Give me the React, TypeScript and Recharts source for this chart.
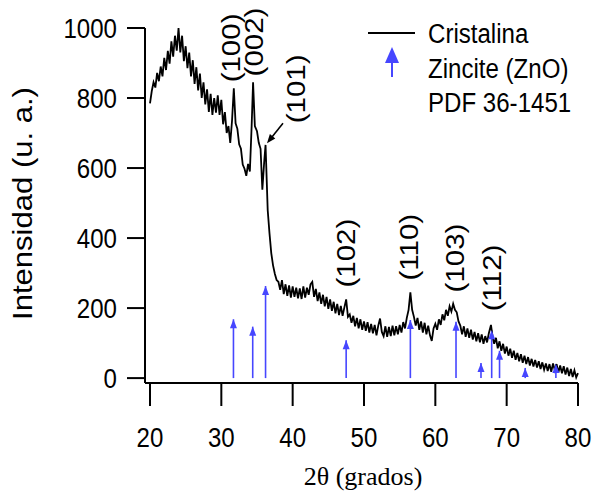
import React from 'react';
import { ComposedChart, Line, Scatter, XAxis, YAxis, ReferenceLine, Legend } from 'recharts';

const SANS = '"Liberation Sans", Arial, sans-serif';
const SERIF = '"Liberation Serif", "Times New Roman", serif';
const BLUE = '#4646ff';

// XRD pattern: [2θ, intensity]
const pattern: [number, number][] = [
  [20.0, 785], [20.25, 820], [20.5, 845], [20.75, 830], [21.0, 872], [21.25, 848], [21.5, 890], [21.75, 862],
  [22.0, 915], [22.25, 880], [22.5, 935], [22.75, 898], [23.0, 962], [23.25, 918], [23.5, 978], [23.75, 935],
  [24.0, 1000], [24.25, 930], [24.5, 978], [24.75, 905], [25.0, 948], [25.25, 885], [25.5, 930], [25.75, 862],
  [26.0, 908], [26.25, 840], [26.5, 888], [26.75, 822], [27.0, 870], [27.25, 800], [27.5, 845], [27.75, 782],
  [28.0, 825], [28.25, 760], [28.5, 812], [28.75, 752], [29.0, 800], [29.25, 758], [29.5, 808], [29.75, 752],
  [30.0, 795], [30.25, 725], [30.5, 760], [30.75, 700], [31.0, 720], [31.25, 672], [31.5, 735], [31.75, 828],
  [32.0, 728], [32.25, 712], [32.5, 668], [32.75, 655], [33.0, 610], [33.25, 598], [33.5, 578], [33.75, 612],
  [34.0, 590], [34.25, 720], [34.45, 845], [34.7, 720], [35.0, 705], [35.25, 672], [35.5, 655], [35.75, 538],
  [36.0, 615], [36.2, 666], [36.5, 480], [36.75, 414], [37.0, 357], [37.25, 322], [37.5, 298], [37.75, 280],
  [38.0, 275], [38.25, 252], [38.5, 280], [38.75, 240], [39.0, 268], [39.25, 235], [39.5, 265], [39.75, 230],
  [40.0, 262], [40.25, 232], [40.5, 258], [40.75, 228], [41.0, 256], [41.25, 226], [41.5, 262], [41.75, 230],
  [42.0, 258], [42.25, 238], [42.5, 268], [42.75, 275], [43.0, 232], [43.25, 255], [43.5, 220], [43.75, 245],
  [44.0, 212], [44.25, 238], [44.5, 205], [44.75, 232], [45.0, 198], [45.25, 225], [45.5, 192], [45.75, 218],
  [46.0, 185], [46.25, 212], [46.5, 180], [46.75, 206], [47.0, 178], [47.25, 202], [47.5, 225], [47.75, 175],
  [48.0, 182], [48.25, 158], [48.5, 178], [48.75, 148], [49.0, 172], [49.25, 142], [49.5, 168], [49.75, 138],
  [50.0, 162], [50.25, 135], [50.5, 160], [50.75, 130], [51.0, 155], [51.25, 128], [51.5, 152], [51.75, 122],
  [52.0, 150], [52.25, 170], [52.5, 132], [52.75, 120], [53.0, 148], [53.25, 118], [53.5, 146], [53.75, 120],
  [54.0, 150], [54.25, 122], [54.5, 148], [54.75, 125], [55.0, 152], [55.25, 130], [55.5, 160], [55.75, 142],
  [56.0, 172], [56.25, 195], [56.5, 245], [56.75, 195], [57.0, 175], [57.25, 150], [57.5, 172], [57.75, 138],
  [58.0, 162], [58.25, 130], [58.5, 158], [58.75, 125], [59.0, 150], [59.25, 122], [59.5, 106], [59.75, 142],
  [60.0, 155], [60.25, 138], [60.5, 168], [60.75, 152], [61.0, 182], [61.25, 165], [61.5, 195], [61.75, 178],
  [62.0, 205], [62.25, 190], [62.5, 212], [62.75, 195], [63.0, 188], [63.25, 162], [63.5, 150], [63.75, 125],
  [64.0, 148], [64.25, 118], [64.5, 142], [64.75, 115], [65.0, 138], [65.25, 110], [65.5, 132], [65.75, 105],
  [66.0, 128], [66.25, 102], [66.5, 125], [66.75, 98], [67.0, 120], [67.25, 102], [67.5, 128], [67.8, 152],
  [68.0, 122], [68.25, 98], [68.5, 115], [68.75, 85], [69.0, 105], [69.25, 78], [69.5, 98], [69.75, 70],
  [70.0, 90], [70.25, 64], [70.5, 84], [70.75, 58], [71.0, 78], [71.25, 52], [71.5, 72], [71.75, 48],
  [72.0, 68], [72.25, 44], [72.5, 64], [72.75, 40], [73.0, 60], [73.25, 36], [73.5, 55], [73.75, 33],
  [74.0, 52], [74.25, 30], [74.5, 48], [74.75, 26], [75.0, 45], [75.25, 24], [75.5, 42], [75.75, 20],
  [76.0, 40], [76.25, 18], [76.5, 42], [76.75, 22], [77.0, 40], [77.25, 16], [77.5, 36], [77.75, 14],
  [78.0, 34], [78.25, 10], [78.5, 30], [78.75, 6], [79.0, 26], [79.25, 3], [79.5, 22], [79.75, 2],
  [80.0, 14],
];

// Zincite (ZnO) PDF 36-1451 reference lines
const zincitePos = [31.7, 34.4, 36.2, 47.5, 56.5, 62.9, 66.4, 67.9, 69.0, 72.6, 76.9];
const zinciteInt = [168, 147, 263, 108, 166, 161, 43, 137, 78, 29, 40];

// Miller index annotations
const hklLabels = ['(100)', '(002)', '(101)', '(102)', '(110)', '(103)', '(112)'];
const hklLabelX = [31.36, 34.72, 40.47, 47.48, 56.31, 62.76, 67.95];
const hklLabelY = [943, 960, 826, 357, 374, 343, 286];
const pointerTip = [{ t: 36.4, i: 671 }];

const xTicks = [20, 30, 40, 50, 60, 70, 80];
const yTicks = [0, 200, 400, 600, 800, 1000];
const legendNames = ['Cristalina', 'Zincite (ZnO)', 'PDF 36-1451'];

const lineData = pattern.map(([t, i]) => ({ t, i }));
const refData = zincitePos.map((t, k) => ({ t, i: zinciteInt[k] }));
const labelData = hklLabels.map((s, k) => ({ t: hklLabelX[k], i: hklLabelY[k], s }));

const YTick = (p: any) => (
  <g transform={`translate(${p.x},${p.y})`}>
    <text x={0} y={10} textAnchor="end" fontSize={28} fontFamily={SANS} fill="#000" transform="scale(0.86,1)">
      {p.payload.value}
    </text>
  </g>
);

const XTick = (p: any) => (
  <g transform={`translate(${p.x},${p.y})`}>
    <text x={0} y={41} textAnchor="middle" fontSize={28} fontFamily={SANS} fill="#000" transform="scale(0.86,1)">
      {p.payload.value}
    </text>
  </g>
);

const YLabel = (p: any) => {
  const vb = p.viewBox || { x: 0, y: 28, width: 145, height: 355 };
  const x = vb.x + 32;
  const y = vb.y + vb.height / 2 - 2;
  return (
    <text transform={`translate(${x},${y}) rotate(-90) scale(1.15,1)`} textAnchor="middle" fontSize={27} fontFamily={SANS} fill="#000">
      Intensidad (u. a.)
    </text>
  );
};

const XLabel = (p: any) => {
  const vb = p.viewBox || { x: 145, y: 383, width: 433, height: 117 };
  return (
    <text x={vb.x + vb.width / 2 + 1.5} y={vb.y + 102} textAnchor="middle" fontSize={26} fontFamily={SERIF} fill="#000">
      2θ (grados)
    </text>
  );
};

const ArrowHead = (p: any) => (
  <path d={`M${p.cx},${p.cy} L${p.cx - 3.5},${p.cy + 9} L${p.cx + 3.5},${p.cy + 9} Z`} fill={BLUE} />
);

const HklText = (p: any) => (
  <text transform={`translate(${p.cx + 8.5},${p.cy}) rotate(-90) scale(1.18,1)`} textAnchor="middle" fontSize={25} fontFamily={SANS} fill="#000">
    {p.payload.s}
  </text>
);

const Pointer = (p: any) => {
  const { cx, cy } = p;
  return (
    <g>
      <line x1={cx + 16} y1={cy - 20} x2={cx + 4} y2={cy - 5} stroke="#000" strokeWidth={1.6} />
      <path d={`M${cx},${cy} L${cx + 8.3},${cy - 4.8} L${cx + 2.9},${cy - 9.2} Z`} fill="#000" />
    </g>
  );
};

const LegendBox = () => (
  <svg width={593} height={130} style={{ display: 'block' }}>
    <line x1={368} y1={33} x2={415} y2={33} stroke="#000" strokeWidth={2} />
    <path d="M392,47 L385,63 L399,63 Z" fill={BLUE} />
    <line x1={392} y1={62} x2={392} y2={77} stroke={BLUE} strokeWidth={2} />
    {legendNames.map((n, k) => (
      <text key={n} transform={`translate(428,${43 + k * 34.5}) scale(0.86,1)`} fontSize={28} fontFamily={SANS} fill="#000">
        {n}
      </text>
    ))}
  </svg>
);

export default function App() {
  return (
    <div style={{ position: 'absolute', left: 0, top: 0, width: 593, height: 500, overflow: 'hidden' }}>
      <ComposedChart
        width={593}
        height={500}
        data={lineData}
        margin={{ top: 28, right: 15, bottom: 0, left: 0 }}
        style={{ fontFamily: SANS }}
      >
        <XAxis
          dataKey="t"
          type="number"
          domain={[19.3, 80]}
          ticks={xTicks}
          height={117}
          tickSize={23}
          tickMargin={0}
          axisLine={{ stroke: '#000', strokeWidth: 2 }}
          tickLine={{ stroke: '#000', strokeWidth: 2 }}
          tick={<XTick />}
          label={<XLabel />}
        />
        <YAxis
          type="number"
          domain={[-14, 1000]}
          ticks={yTicks}
          width={145}
          tickSize={18}
          tickMargin={10}
          axisLine={{ stroke: '#000', strokeWidth: 2 }}
          tickLine={{ stroke: '#000', strokeWidth: 2 }}
          tick={<YTick />}
          label={<YLabel />}
        />
        <Legend
          verticalAlign="middle"
          align="center"
          layout="horizontal"
          content={<LegendBox />}
          wrapperStyle={{ left: 0, top: 0, width: 593, height: 130, pointerEvents: 'none' }}
        />
        {refData.map((d) => (
          <ReferenceLine
            key={d.t}
            segment={[{ x: d.t, y: 0 }, { x: d.t, y: d.i }]}
            stroke={BLUE}
            strokeWidth={1.6}
          />
        ))}
        <Line
          type="linear"
          dataKey="i"
          stroke="#000"
          strokeWidth={1.8}
          dot={false}
          activeDot={false}
          isAnimationActive={false}
          legendType="none"
        />
        <Scatter data={refData} dataKey="i" shape={<ArrowHead />} isAnimationActive={false} legendType="none" />
        <Scatter data={labelData} dataKey="i" shape={<HklText />} isAnimationActive={false} legendType="none" />
        <Scatter data={pointerTip} dataKey="i" shape={<Pointer />} isAnimationActive={false} legendType="none" />
      </ComposedChart>
    </div>
  );
}
